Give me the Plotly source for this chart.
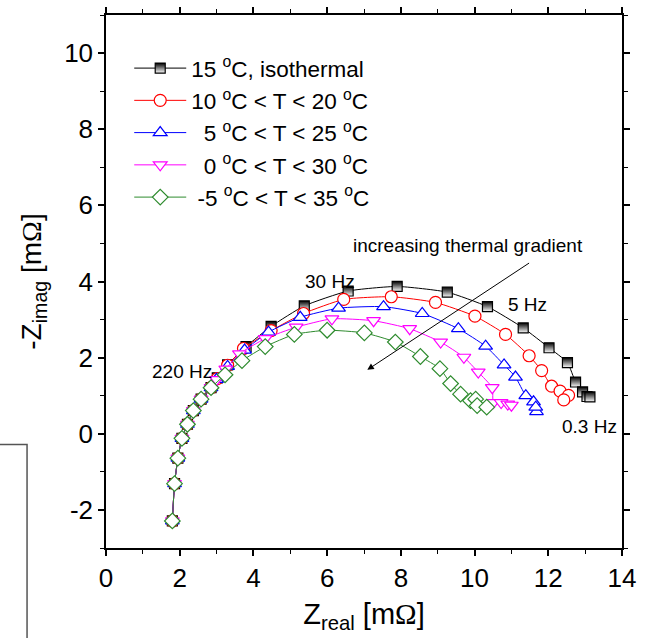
import plotly.graph_objects as go

# ---- data (Z_real [mOhm], -Z_imag [mOhm]) ----
iso_x = [1.80, 1.86, 1.95, 2.06, 2.21, 2.37, 2.58, 2.85, 3.02, 3.30, 3.80, 4.48, 5.38, 6.57, 7.90, 9.26, 10.35, 11.32, 12.02, 12.52, 12.74, 12.93, 13.05, 13.13]
iso_y = [-2.29, -1.31, -0.64, -0.12, 0.25, 0.61, 0.91, 1.21, 1.47, 1.81, 2.29, 2.82, 3.36, 3.75, 3.87, 3.72, 3.34, 2.78, 2.26, 1.87, 1.36, 1.10, 0.98, 0.97]

g10_x = [1.80, 1.86, 1.95, 2.06, 2.21, 2.37, 2.58, 2.85, 3.02, 3.30, 3.73, 4.48, 5.36, 6.45, 7.74, 8.94, 10.01, 10.84, 11.48, 11.82, 12.09, 12.32, 12.55, 12.42]
g10_y = [-2.29, -1.31, -0.64, -0.12, 0.25, 0.61, 0.91, 1.21, 1.45, 1.80, 2.24, 2.71, 3.16, 3.53, 3.60, 3.45, 3.09, 2.61, 2.05, 1.66, 1.25, 1.12, 1.01, 0.89]

g20_x = [1.80, 1.86, 1.95, 2.06, 2.21, 2.37, 2.58, 2.85, 3.00, 3.30, 3.76, 4.41, 5.27, 6.31, 7.53, 8.58, 9.56, 10.30, 10.80, 11.11, 11.39, 11.60, 11.68, 11.66]
g20_y = [-2.29, -1.31, -0.64, -0.12, 0.25, 0.61, 0.91, 1.21, 1.43, 1.77, 2.20, 2.67, 3.06, 3.30, 3.34, 3.16, 2.76, 2.30, 1.81, 1.49, 1.00, 0.84, 0.58, 0.70]

g30_x = [1.80, 1.86, 1.95, 2.06, 2.21, 2.37, 2.58, 2.85, 3.00, 3.25, 3.62, 4.32, 5.16, 6.13, 7.26, 8.24, 9.08, 9.71, 10.10, 10.48, 10.51, 10.72, 10.90, 11.00]
g30_y = [-2.29, -1.31, -0.64, -0.12, 0.25, 0.61, 0.91, 1.21, 1.42, 1.70, 2.10, 2.50, 2.80, 3.02, 2.97, 2.76, 2.41, 2.01, 1.62, 1.21, 0.82, 0.82, 0.78, 0.75]

g40_x = [1.80, 1.86, 1.95, 2.06, 2.21, 2.37, 2.58, 2.85, 3.23, 3.69, 4.32, 5.11, 6.00, 7.01, 7.85, 8.53, 9.06, 9.35, 9.62, 9.89, 10.03, 10.07, 10.33]
g40_y = [-2.29, -1.31, -0.64, -0.12, 0.25, 0.61, 0.91, 1.21, 1.55, 1.92, 2.29, 2.61, 2.72, 2.65, 2.41, 2.03, 1.71, 1.32, 1.04, 0.87, 0.91, 0.74, 0.70]

series_names = [
    "15 <sup>o</sup>C, isothermal",
    "10 <sup>o</sup>C < T < 20 <sup>o</sup>C",
    "  5 <sup>o</sup>C < T < 25 <sup>o</sup>C",
    "  0 <sup>o</sup>C < T < 30 <sup>o</sup>C",
    " -5 <sup>o</sup>C < T < 35 <sup>o</sup>C",
]
series_x = [iso_x, g10_x, g20_x, g30_x, g40_x]
series_y = [iso_y, g10_y, g20_y, g30_y, g40_y]

freq_labels = ["30 Hz", "220 Hz", "5 Hz", "0.3 Hz"]
freq_x = [6.09, 2.06, 11.43, 13.13]
freq_y = [4.00, 1.64, 3.40, 0.18]

x_ticks = [0, 2, 4, 6, 8, 10, 12, 14]
x_ticktext = ["0", "2", "4", "6", "8", "10", "12", "14"]
y_ticks = [-2, 0, 2, 4, 6, 8, 10]
y_ticktext = ["-2", "0", "2", "4", "6", "8", "10"]

# ---- styles ----
colors = ["black", "red", "blue", "magenta", "#2e8b2e"]
symbols = ["square", "circle", "triangle-up", "triangle-down", "diamond"]
sizes = [10, 12, 12, 12, 12]
FONT = "Arial, 'Liberation Sans', sans-serif"
OMEGA = "<span style='font-family:\"Liberation Serif\",\"Times New Roman\",serif'>Ω</span>"

fig = go.Figure()
for i in range(5):
    marker = dict(symbol=symbols[i], size=sizes[i], color="white",
                  line=dict(color=colors[i], width=1.2))
    if i == 0:
        marker = dict(symbol="square", size=sizes[i], color="black",
                      gradient=dict(type="vertical", color="white"),
                      line=dict(color="black", width=1.2))
    fig.add_trace(go.Scatter(
        x=series_x[i], y=series_y[i], name=series_names[i],
        mode="lines+markers",
        line=dict(color=colors[i], width=1, shape="spline", smoothing=0.5),
        marker=marker,
    ))

for t, xv, yv in zip(freq_labels, freq_x, freq_y):
    fig.add_annotation(x=xv, y=yv, text=t, showarrow=False,
                       font=dict(size=19, color="black", family=FONT))

fig.add_annotation(x=9.81, y=4.95, text="increasing thermal gradient", showarrow=False,
                   font=dict(size=19, color="black", family=FONT))
fig.add_annotation(x=7.09, y=1.68, ax=11.52, ay=4.51, xref="x", yref="y",
                   axref="x", ayref="y", text="", showarrow=True,
                   arrowhead=2, arrowsize=1.3, arrowwidth=1, arrowcolor="black")

# cropped frame of neighbouring figure (bottom-left)
fig.add_shape(type="path", xref="paper", yref="paper",
              path="M -0.3 0.194 L -0.153 0.194 L -0.153 -0.3",
              line=dict(color="#555555", width=1.5))

axis_common = dict(showline=True, linecolor="black", linewidth=1.5, mirror="ticks",
                   ticks="outside", ticklen=6, tickwidth=1.5, tickcolor="black",
                   showgrid=False, zeroline=False,
                   tickfont=dict(size=26, color="black", family=FONT),
                   minor=dict(ticks="outside", ticklen=4, tickwidth=1.2, tickcolor="black", dtick=1))

fig.update_xaxes(range=[0, 14], tickvals=x_ticks, ticktext=x_ticktext,
                 title=dict(text="Z<sub>real</sub> [m" + OMEGA + "]",
                            font=dict(size=29, color="black", family=FONT), standoff=12),
                 **axis_common)
fig.update_yaxes(range=[-3, 11], tickvals=y_ticks, ticktext=y_ticktext,
                 title=dict(text="-Z<sub>imag</sub> [m" + OMEGA + "]",
                            font=dict(size=28, color="black", family=FONT), standoff=14),
                 **axis_common)

fig.update_layout(
    width=646, height=638,
    margin=dict(l=106, r=24, t=7, b=90),
    plot_bgcolor="white", paper_bgcolor="white",
    font=dict(family=FONT, color="black"),
    legend=dict(x=0.045, y=0.94, xanchor="left", yanchor="top",
                bgcolor="rgba(0,0,0,0)", font=dict(size=22.5, color="black", family=FONT),
                tracegroupgap=0, itemwidth=52),
    showlegend=True,
)

fig.write_html("out.html", config={"displayModeBar": False},
               post_script="document.body.style.margin='0px';")
